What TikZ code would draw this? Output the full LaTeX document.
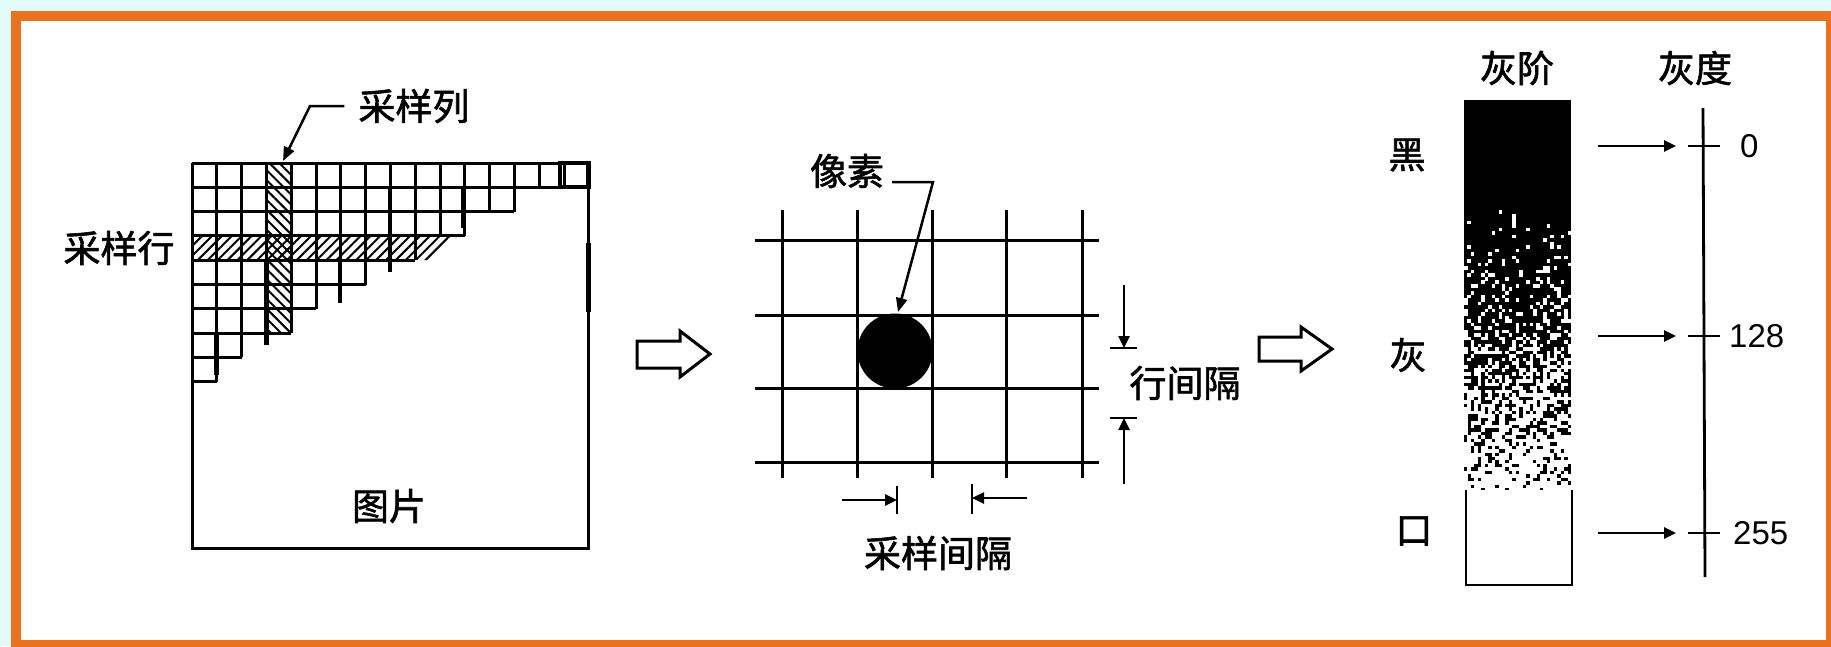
\documentclass[tikz,border=0pt]{standalone}
\usepackage{fontspec}
\newfontfamily\cjk[FakeBold=1.6]{Noto Sans CJK SC}
\setsansfont{Liberation Sans}
\usetikzlibrary{arrows.meta,patterns.meta}
\definecolor{frameorange}{RGB}{232,114,30}
\definecolor{outercyan}{RGB}{226,250,250}
\tikzset{
  cjklabel/.style={font=\cjk\fontsize{37}{40}\selectfont, inner sep=0pt},
  numlabel/.style={font=\sffamily\fontsize{33}{36}\selectfont, inner sep=0pt, anchor=west},
  gridline/.style={line width=3pt},
  thickline/.style={line width=4.5pt},
  leader/.style={line width=2.5pt, -{Triangle[length=14pt,width=11pt]}},
  dimarrow/.style={line width=2.5pt, -{Triangle[length=12pt,width=11pt]}},
  dimbar/.style={line width=2.8pt},
  hollowarrow/.style={draw, line width=3pt, fill=white, line join=miter},
}
\begin{document}
\begin{tikzpicture}[x=1pt,y=-1pt]
\useasboundingbox (0,0) rectangle (1831,646);
\clip (0,0) rectangle (1831,646);
% background and frame
\fill[outercyan] (0,0) rectangle (1831,646);
\fill[white] (16,16) rectangle (1831,645);
\draw[frameorange, line width=10pt] (16,16) rectangle (1831,645);

% ================= left: picture with sampling grid =================
% hatched column and row
\fill[pattern={Lines[angle=-45,distance=7pt,line width=2pt]}] (266.7,163) rectangle (290,333);
\fill[pattern={Lines[angle=45,distance=7pt,line width=2pt]}] (192,236) -- (458,236) -- (432,260) -- (192,260) -- cycle;
% staircase grid
\draw[gridline] (192,163) -- (588.5,163);
\foreach \n [count=\j from 0] in {16,13,11,9,7,5,4,2,1} {
  \pgfmathsetmacro\yt{163+24.3*\j}
  \pgfmathsetmacro\yb{163+24.3*(\j+1)}
  \foreach \i in {1,...,\n} \draw[gridline] ({192+24.8*\i},\yt) -- ({192+24.8*\i},\yb);
  \draw[gridline] (192,\yb) -- ({192+24.8*\n},\yb);
}
% heavier strokes
\draw[thickline] (390,187) -- (390,272);
\draw[thickline] (463.3,187) -- (463.3,228);
\draw[thickline] (340,260) -- (340,303);
\draw[thickline] (266.7,260) -- (266.7,345);
\draw[thickline] (216.7,333) -- (216.7,375);
\draw[thickline] (560,163) rectangle (588.5,187);
% picture outline
\draw[gridline] (192,163) -- (192,548) -- (588.5,548) -- (588.5,163);
\draw[thickline] (588.5,243) -- (588.5,312);
% labels
\node[cjklabel] (collabel) at (414,106) {采样列};
\node[cjklabel] (rowlabel) at (119,248) {采样行};
\node[cjklabel] (piclabel) at (389,506) {图片};
\coordinate (colbend) at (310,106);
\coordinate (coltip) at (283,161);
\draw[leader] ([xshift=-14pt]collabel.west) -- (colbend) -- (coltip);

% hollow arrow 1
\draw[hollowarrow] (637,341) -- (680,341) -- (680,331) -- (710,354) -- (680,377) -- (680,368) -- (637,368) -- cycle;

% ================= middle: pixel grid =================
\foreach \y in {240,315,388,462} \draw[gridline] (755,\y) -- (1099,\y);
\foreach \x in {782,857,932,1006,1082} \draw[gridline] (\x,210) -- (\x,478);
\fill (895,351) circle[radius=37.5];
\node[cjklabel] (pixlabel) at (847,171) {像素};
\coordinate (pixbend) at (933,182);
\coordinate (pixtip) at (898,312);
\draw[leader] ([xshift=8pt]pixlabel.east |- pixbend) -- (pixbend) -- (pixtip);
% sampling interval
\coordinate (sl) at (897,500);
\coordinate (sr) at (972,498);
\draw[dimbar] (897,486) -- (897,514);
\draw[dimbar] (972,484) -- (972,514);
\draw[dimarrow] (842,500) -- (sl);
\draw[dimarrow] (1027,498) -- (sr);
\node[cjklabel] (samplabel) at (938,553) {采样间隔};
% row interval
\coordinate (rt) at (1124,348);
\coordinate (rb) at (1124,418);
\draw[dimbar] (1110,348) -- (1137,348);
\draw[dimbar] (1110,418) -- (1137,418);
\draw[dimarrow] (1124,285) -- (rt);
\draw[dimarrow] (1124,484) -- (rb);
\node[cjklabel] (rowintlabel) at (1185,383) {行间隔};

% hollow arrow 2
\draw[hollowarrow] (1259,337) -- (1301,337) -- (1301,327) -- (1332,349) -- (1301,371) -- (1301,361) -- (1259,361) -- cycle;

% ================= right: gray scale =================
\fill[black] (1464,100) rectangle (1571,490);
\pgfmathsetseed{7}
\foreach \r in {0,...,81} {
  \pgfmathsetmacro\g{0.02+0.85*(\r/81)^1.25}
  \foreach \c in {0,...,30} {
    \pgfmathsetmacro\rn{rnd}
    \ifdim\rn pt<\g pt \fill[white] ({1464+3.45*\c},{203+3.52*\r}) rectangle ++(3.5,3.6); \fi
  }
}
\draw[line width=2.8pt, fill=white] (1466,490) -- (1466,585) -- (1572,585) -- (1572,490);
\node[cjklabel] (steplabel) at (1517,68) {灰阶};
\node[cjklabel] (graylabel) at (1695,68) {灰度};
\node[cjklabel] (blacklabel) at (1407,155) {黑};
\node[cjklabel] (greylabel) at (1408,355) {灰};
\node[cjklabel] (whitelabel) at (1414,531) {口};
% scale
\coordinate (stop) at (1703,108);
\coordinate (sbot) at (1705,577);
\draw[line width=2.8pt] (stop) -- (sbot);
\foreach \y/\t/\nx/\nm in {146/0/1740/zero,336/128/1729/mid,533/255/1733/full} {
  \draw[line width=2.5pt] (1688,\y) -- (1720,\y);
  \coordinate (a\nm) at (1598,\y);
  \coordinate (b\nm) at (1676,\y);
  \draw[dimarrow] (a\nm) -- (b\nm);
  \node[numlabel] (n\nm) at (\nx,\y) {\t};
}
\end{tikzpicture}
\end{document}
